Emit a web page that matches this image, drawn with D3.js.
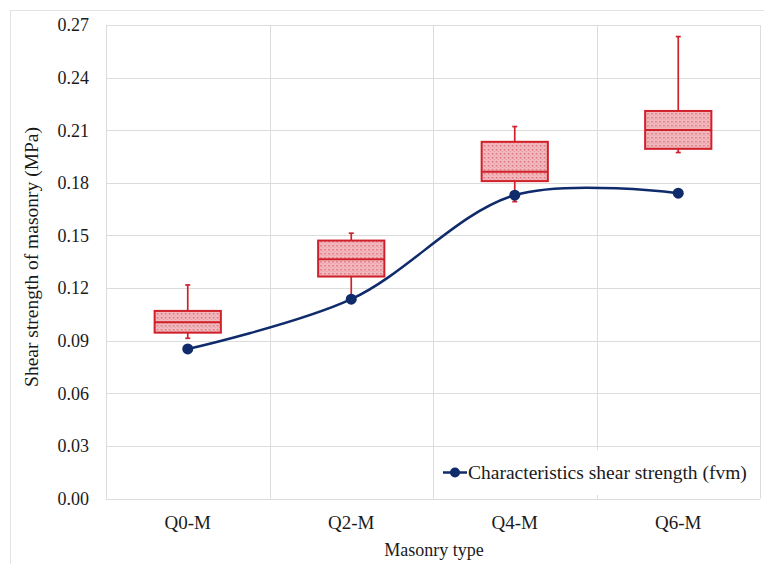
<!DOCTYPE html>
<html>
<head>
<meta charset="utf-8">
<script src="https://cdn.jsdelivr.net/npm/d3@7"></script>
<style>
  html, body { margin: 0; padding: 0; background: #fff; }
  svg text { font-family: "Liberation Serif", "Times New Roman", serif; fill: #1a1a1a; }
</style>
</head>
<body>
<svg id="chart" width="764" height="564"></svg>
<script>
// Masonry types on the x axis
const categories = ["Q0-M", "Q2-M", "Q4-M", "Q6-M"];
// Box-plot statistics of shear strength (MPa)
const whiskerLow  = [0.0914, 0.1137, 0.1693, 0.1973];
const quartile1   = [0.0946, 0.1266, 0.1810, 0.1994];
const median      = [0.1005, 0.1365, 0.1864, 0.2102];
const quartile3   = [0.1070, 0.1471, 0.2034, 0.2210];
const whiskerHigh = [0.1218, 0.1513, 0.2121, 0.2634];
// Characteristic shear strength fvm (MPa)
const fvm = [0.0853, 0.1137, 0.1730, 0.1741];
// Y axis ticks
const yTicks = [0, 0.03, 0.06, 0.09, 0.12, 0.15, 0.18, 0.21, 0.24, 0.27];

const svg = d3.select("#chart");
const plot = { left: 106, right: 760, top: 25, bottom: 498.6 };

const x = d3.scaleBand().domain(categories).range([plot.left, plot.right]).padding(0);
const y = d3.scaleLinear().domain([0, 0.27]).range([plot.bottom, plot.top]);

const boxRed = "#d0202a";
const navy = "#0f2b6b";
const grid = "#dcdcdc";

// dotted pink fill for the boxes
const defs = svg.append("defs");
const pat = defs.append("pattern")
  .attr("id", "dots").attr("patternUnits", "userSpaceOnUse")
  .attr("width", 4).attr("height", 4);
pat.append("rect").attr("width", 4).attr("height", 4).attr("fill", "#f1b9bd");
pat.append("rect").attr("x", 1).attr("y", 1).attr("width", 1.5).attr("height", 1.5).attr("fill", "#d9707a");
pat.append("rect").attr("x", 3).attr("y", 3).attr("width", 1).attr("height", 1).attr("fill", "#e5959b");

// outer frame
svg.append("rect")
  .attr("x", 10.5).attr("y", 10.5).attr("width", 760).attr("height", 560)
  .attr("fill", "none").attr("stroke", "#e3e3e3");

// horizontal gridlines
svg.append("g").selectAll("line").data(yTicks).join("line")
  .attr("x1", plot.left).attr("x2", plot.right)
  .attr("y1", d => Math.round(y(d)) + 0.5).attr("y2", d => Math.round(y(d)) + 0.5)
  .attr("stroke", grid).attr("stroke-width", 1);

// vertical gridlines at category boundaries
const bounds = categories.map(c => x(c)).concat([plot.right]);
svg.append("g").selectAll("line").data(bounds).join("line")
  .attr("x1", d => Math.round(d) + 0.5).attr("x2", d => Math.round(d) + 0.5)
  .attr("y1", plot.top).attr("y2", plot.bottom)
  .attr("stroke", grid).attr("stroke-width", 1);

// y tick labels
svg.append("g").selectAll("text").data(yTicks).join("text")
  .attr("x", 89).attr("y", d => y(d))
  .attr("dy", "0.35em").attr("text-anchor", "end")
  .attr("font-size", 18)
  .text(d3.format(".2f"));

// x category labels
svg.append("g").selectAll("text").data(categories).join("text")
  .attr("x", d => x(d) + x.bandwidth() / 2).attr("y", 529)
  .attr("text-anchor", "middle").attr("font-size", 19)
  .text(d => d);

// axis titles
svg.append("text")
  .attr("x", 434).attr("y", 556).attr("text-anchor", "middle")
  .attr("font-size", 18).text("Masonry type");
svg.append("text")
  .attr("transform", "translate(38,257) rotate(-90)")
  .attr("text-anchor", "middle").attr("font-size", 19.5)
  .text("Shear strength of masonry (MPa)");

// box plots
const boxW = x.bandwidth() * 0.405;
const capW = 5;
const boxes = svg.append("g").selectAll("g").data(categories).join("g")
  .attr("transform", d => `translate(${x(d) + x.bandwidth() / 2},0)`);

boxes.append("line") // upper whisker
  .attr("x1", 0).attr("x2", 0)
  .attr("y1", (d, i) => y(whiskerHigh[i])).attr("y2", (d, i) => y(quartile3[i]))
  .attr("stroke", boxRed).attr("stroke-width", 1.7);
boxes.append("line") // lower whisker
  .attr("x1", 0).attr("x2", 0)
  .attr("y1", (d, i) => y(quartile1[i])).attr("y2", (d, i) => y(whiskerLow[i]))
  .attr("stroke", boxRed).attr("stroke-width", 1.7);
boxes.append("line")
  .attr("x1", -capW / 2).attr("x2", capW / 2)
  .attr("y1", (d, i) => y(whiskerHigh[i])).attr("y2", (d, i) => y(whiskerHigh[i]))
  .attr("stroke", boxRed).attr("stroke-width", 1.7);
boxes.append("line")
  .attr("x1", -capW / 2).attr("x2", capW / 2)
  .attr("y1", (d, i) => y(whiskerLow[i])).attr("y2", (d, i) => y(whiskerLow[i]))
  .attr("stroke", boxRed).attr("stroke-width", 1.7);
boxes.append("rect")
  .attr("x", -boxW / 2).attr("width", boxW)
  .attr("y", (d, i) => y(quartile3[i]))
  .attr("height", (d, i) => y(quartile1[i]) - y(quartile3[i]))
  .attr("fill", "url(#dots)").attr("stroke", boxRed).attr("stroke-width", 2);
boxes.append("line")
  .attr("x1", -boxW / 2).attr("x2", boxW / 2)
  .attr("y1", (d, i) => y(median[i])).attr("y2", (d, i) => y(median[i]))
  .attr("stroke", boxRed).attr("stroke-width", 2);

// smoothed fvm line with markers
const pts = categories.map((c, i) => [x(c) + x.bandwidth() / 2, y(fvm[i])]);
svg.append("path")
  .attr("d", d3.line().curve(d3.curveCatmullRom.alpha(0.5))(pts))
  .attr("fill", "none").attr("stroke", navy).attr("stroke-width", 2.5);
svg.append("g").selectAll("circle").data(pts).join("circle")
  .attr("cx", d => d[0]).attr("cy", d => d[1]).attr("r", 5.5)
  .attr("fill", navy);

// legend
const lg = svg.append("g");
lg.append("rect").attr("x", 437).attr("y", 450).attr("width", 320).attr("height", 45)
  .attr("fill", "#fff");
lg.append("line").attr("x1", 443).attr("x2", 467).attr("y1", 472.5).attr("y2", 472.5)
  .attr("stroke", navy).attr("stroke-width", 2.5);
lg.append("circle").attr("cx", 455).attr("cy", 472.5).attr("r", 5).attr("fill", navy);
lg.append("text").attr("x", 468).attr("y", 478.5).attr("font-size", 19.5)
  .text("Characteristics shear strength (fvm)");
</script>
</body>
</html>
